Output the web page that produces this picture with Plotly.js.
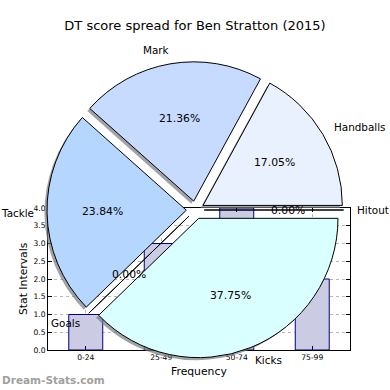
<!DOCTYPE html>
<html>
<head>
<meta charset="utf-8">
<script src="https://cdn.plot.ly/plotly-3.0.1.min.js"></script>
<style>html,body{margin:0;padding:0;background:#fff;}#chart{width:390px;height:390px;}</style>
</head>
<body>
<div id="chart"></div>
<script>
// ---- data ----
const chartTitle = "DT score spread for Ben Stratton (2015)";
const pieLabels = ["Handballs", "Mark", "Tackle", "Goals", "Kicks", "Hitout"];
const pieValues = [17.05, 21.36, 23.84, 0.00, 37.75, 0.00];
const pieColors = ["#e9f1ff", "#c6dbff", "#b5d6ff", "#c8c8ff", "#d9ffff", "#e0e0ff"];
const barCategories = ["0-24", "25-49", "50-74", "75-99"];
const barValues = [1, 3, 4, 2];
const xAxisTitle = "Frequency";
const yAxisTitle = "Stat Intervals";
const watermark = "Dream-Stats.com";

// ---- layout constants (pixels) ----
const W = 390, H = 390;
const FONT = "DejaVu Sans";
const axL = 48, axR = 350, axT = 208, axB = 350;
const pieCx = 195.3, pieCy = 210, pieR = 139.3, pull = 0.0646;
const shadowDx = -2.5, shadowDy = 2.5;

const px2x = p => p / W;
const px2y = p => 1 - p / H;
const half = pieR * (1 + pull);

const total = pieValues.reduce((a, b) => a + b, 0);
// Plotly (counterclockwise) ends the first slice at the rotation angle;
// make the first slice start at 3 o'clock like the reference.
const pieRotation = 90 - 360 * pieValues[0] / total;

function pieDomain(dx, dy) {
  return {
    x: [px2x(pieCx + dx - half), px2x(pieCx + dx + half)],
    y: [px2y(pieCy + dy + half), px2y(pieCy + dy - half)]
  };
}

const traces = [
  {
    type: "bar",
    x: barCategories,
    y: barValues,
    width: 0.45,
    marker: {color: "#cbcbe3", line: {color: "#000080", width: 1}},
    hoverinfo: "skip",
    xaxis: "x", yaxis: "y"
  },
  {
    type: "pie",
    labels: pieLabels,
    values: pieValues,
    sort: false,
    direction: "counterclockwise",
    rotation: pieRotation,
    pull: pull,
    domain: pieDomain(shadowDx, shadowDy),
    marker: {colors: pieLabels.map(() => "rgba(120,122,128,0.7)"), line: {width: 0}},
    textinfo: "none",
    hoverinfo: "skip",
    showlegend: false
  },
  {
    type: "pie",
    labels: pieLabels,
    values: pieValues,
    sort: false,
    direction: "counterclockwise",
    rotation: pieRotation,
    pull: pull,
    domain: pieDomain(0, 0),
    marker: {colors: pieColors, line: {color: "#000000", width: 1}},
    textinfo: "none",
    hoverinfo: "skip",
    showlegend: false
  }
];

// label / percentage annotations derived from the data (matplotlib-style placement)
const annotations = [];
let cum = 0;
const d = pull * pieR;
pieValues.forEach((v, i) => {
  const t1 = 360 * cum / total;
  cum += v;
  const t2 = 360 * cum / total;
  const mid = (t1 + t2) / 2 * Math.PI / 180;
  const c = Math.cos(mid), s = Math.sin(mid);
  const ox = pieCx + d * c, oy = pieCy - d * s;
  const lx = ox + 1.1 * pieR * c, ly = oy - 1.1 * pieR * s;
  annotations.push({
    xref: "paper", yref: "paper", x: px2x(lx), y: px2y(ly),
    text: pieLabels[i], showarrow: false,
    xanchor: c >= 0 ? "left" : "right", yanchor: "middle",
    xshift: c >= 0 ? -3 : 3,
    font: {family: FONT, size: 10.4, color: "#000"}
  });
  const tx = ox + 0.6 * pieR * c, ty = oy - 0.6 * pieR * s;
  annotations.push({
    xref: "paper", yref: "paper", x: px2x(tx), y: px2y(ty),
    text: (100 * v / total).toFixed(2) + "%", showarrow: false,
    xanchor: "center", yanchor: "middle",
    font: {family: FONT, size: 10.8, color: "#000"}
  });
});

annotations.push({
  xref: "paper", yref: "paper", x: px2x((axL + axR) / 2), y: px2y(371),
  text: xAxisTitle, showarrow: false, xanchor: "center", yanchor: "middle",
  font: {family: FONT, size: 10.8, color: "#000"}
});
annotations.push({
  xref: "paper", yref: "paper", x: px2x(23), y: px2y((axT + axB) / 2),
  text: yAxisTitle, showarrow: false, xanchor: "center", yanchor: "middle",
  textangle: -90,
  font: {family: FONT, size: 10.8, color: "#000"}
});
annotations.push({
  xref: "paper", yref: "paper", x: 0, y: px2y(380),
  text: watermark, showarrow: false, xanchor: "left", yanchor: "middle",
  font: {family: FONT, size: 10.5, color: "#a0a0a0", weight: "bold"}
});

const layout = {
  width: W, height: H,
  margin: {l: 0, r: 0, t: 0, b: 0, pad: 0},
  paper_bgcolor: "#ffffff",
  plot_bgcolor: "#ffffff",
  showlegend: false,
  title: {
    text: chartTitle,
    font: {family: FONT, size: 13, color: "#000"},
    x: 0.5, xanchor: "center", xref: "paper",
    y: px2y(25), yanchor: "middle", yref: "paper"
  },
  xaxis: {
    domain: [px2x(axL), px2x(axR)],
    type: "category",
    range: [-0.5, 3.5],
    showline: true, linecolor: "#000", linewidth: 1, mirror: "ticks",
    ticks: "inside", ticklen: 4, tickcolor: "#000",
    showgrid: true, gridcolor: "#b8b8b8", griddash: "dot", gridwidth: 1,
    tickfont: {family: FONT, size: 7.6, color: "#000"},
    fixedrange: true, automargin: false, zeroline: false
  },
  yaxis: {
    domain: [px2y(axB), px2y(axT)],
    range: [0, 4],
    dtick: 0.5, tick0: 0, tickformat: ".1f",
    showline: true, linecolor: "#000", linewidth: 1, mirror: "ticks",
    ticks: "inside", ticklen: 4, tickcolor: "#000",
    showgrid: true, gridcolor: "#b8b8b8", griddash: "dot", gridwidth: 1,
    tickfont: {family: FONT, size: 7.6, color: "#000"},
    fixedrange: true, automargin: false, zeroline: false
  },
  annotations: annotations
};

Plotly.newPlot("chart", traces, layout, {displayModeBar: false, staticPlot: true});
</script>
</body>
</html>
